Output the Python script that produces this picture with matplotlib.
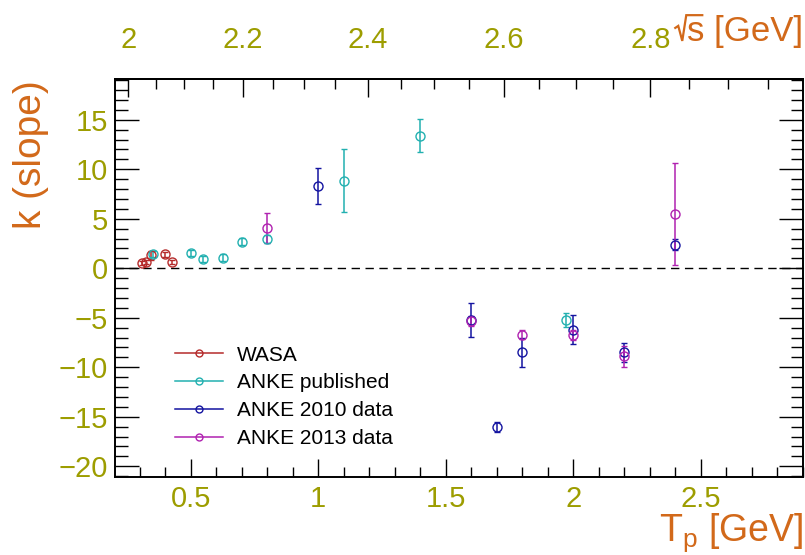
import numpy as np
import matplotlib
matplotlib.use('Agg')
import matplotlib.pyplot as plt
from matplotlib.lines import Line2D
from matplotlib.ticker import MultipleLocator, FuncFormatter

plt.rcParams['font.family'] = ['Liberation Sans', 'DejaVu Sans']
plt.rcParams['mathtext.fontset'] = 'custom'
plt.rcParams['mathtext.rm'] = 'Liberation Sans'
plt.rcParams['mathtext.it'] = 'Liberation Sans:italic'

OLIVE = '#9d9d00'
ORANGE = '#d2691a'
M_P = 0.938  # proton mass [GeV]

# slope k vs beam kinetic energy Tp [GeV]
wasa_tp = [0.31, 0.325, 0.345, 0.40, 0.425]
wasa_k = [0.5, 0.6, 1.3, 1.4, 0.6]
wasa_err = [0.2, 0.2, 0.47, 0.25, 0.2]

pub_tp = [0.353, 0.50, 0.55, 0.625, 0.70, 0.80, 1.10, 1.40, 1.97]
pub_k = [1.4, 1.5, 0.9, 1.07, 2.7, 3.0, 8.85, 13.4, -5.2]
pub_err = [0.3, 0.3, 0.3, 0.35, 0.35, 0.4, 3.2, 1.7, 0.7]

a10_tp = [1.0, 1.6, 1.7, 1.8, 2.0, 2.2, 2.4]
a10_k = [8.3, -5.2, -16.0, -8.5, -6.2, -8.5, 2.4]
a10_err = [1.83, 1.7, 0.5, 1.5, 1.48, 1.0, 0.6]

a13_tp = [0.8, 1.6, 1.8, 2.0, 2.2, 2.4]
a13_k = [4.1, -5.3, -6.7, -6.7, -8.9, 5.45]
a13_err = [1.5, 0.5, 0.45, 0.5, 1.05, 5.15]

series = [
    ('WASA', wasa_tp, wasa_k, wasa_err, '#b52b2b'),
    ('ANKE published', pub_tp, pub_k, pub_err, '#22b0b0'),
    ('ANKE 2010 data', a10_tp, a10_k, a10_err, '#1414a0'),
    ('ANKE 2013 data', a13_tp, a13_k, a13_err, '#b022b0'),
]

sqrts_major = [2.0, 2.2, 2.4, 2.6, 2.8]


def tp_to_sqrts(tp):
    tp = np.asarray(tp, dtype=float)
    return np.sqrt(np.maximum(4 * M_P**2 + 2 * M_P * tp, 0))


def sqrts_to_tp(rs):
    rs = np.asarray(rs, dtype=float)
    return (rs**2 - 4 * M_P**2) / (2 * M_P)


short_fmt = FuncFormatter(lambda v, pos: f'{v:g}')

fig = plt.figure(figsize=(8.05, 5.55), dpi=100)
ax = fig.add_axes([0.1429, 0.1411, 0.8542, 0.7157])

ax.axhline(0, color='black', lw=1.0, ls=(0, (6, 4)), zorder=1)

handles = []
for name, tp, k, err, col in series:
    ax.errorbar(tp, k, yerr=err, fmt='o', ms=6.5, mfc='none', mec=col,
                mew=1.0, color=col, ecolor=col, elinewidth=1.1,
                capsize=2, capthick=1.0, zorder=3)
    handles.append(Line2D([0], [0], color=col, lw=1.1, marker='o', ms=5,
                          mfc='none', mec=col, mew=1.0, label=name))

ax.set_xlim(0.2035, 2.9)
ax.set_ylim(-21.05, 19.07)

ax.xaxis.set_major_locator(MultipleLocator(0.5))
ax.xaxis.set_minor_locator(MultipleLocator(0.1))
ax.xaxis.set_major_formatter(short_fmt)
ax.yaxis.set_major_locator(MultipleLocator(5))
ax.yaxis.set_minor_locator(MultipleLocator(1))

ax.tick_params(axis='both', which='both', direction='in', colors='black',
               labelcolor=OLIVE, labelsize=21, width=1.0)
ax.tick_params(axis='y', which='major', length=17, pad=5, right=True)
ax.tick_params(axis='y', which='minor', length=9, right=True)
ax.tick_params(axis='x', which='major', length=13, pad=6, top=False)
ax.tick_params(axis='x', which='minor', length=7, top=False)
for sp in ax.spines.values():
    sp.set_linewidth(1.4)

# sqrt(s) scale along the top edge
top = ax.secondary_xaxis('top', functions=(tp_to_sqrts, sqrts_to_tp))
top.set_xticks(sqrts_major)
top.xaxis.set_major_formatter(short_fmt)
top.xaxis.set_minor_locator(MultipleLocator(0.05))
top.tick_params(axis='x', which='both', direction='in', labelcolor=OLIVE,
                labelsize=21, width=1.0)
top.tick_params(axis='x', which='major', length=13, pad=18)
top.tick_params(axis='x', which='minor', length=7)
top.spines['top'].set_linewidth(1.4)

# axis titles
W, H = fig.bbox.width, fig.bbox.height
sq = fig.text(0.998, 1 - 31 / 555, 's [GeV]', color=ORANGE, fontsize=25,
              ha='right', va='center')
fig.text(0.998, 1 - 533 / 555, r'T$_\mathrm{p}$ [GeV]', color=ORANGE,
         fontsize=27, ha='right', va='center')
fig.text(31 / 805, 1 - 80 / 555, 'k (slope)', color=ORANGE, fontsize=28,
         rotation=90, ha='center', va='top')

# radical sign in front of the "s"
fig.canvas.draw()
bb = sq.get_window_extent(fig.canvas.get_renderer())
x0 = bb.x0
y_base = bb.y0 + 0.2 * bb.height
y_top = bb.y1 - 0.02 * bb.height
rx = np.array([x0 - 12, x0 - 9, x0 - 5, x0 - 1, x0 + 15])
ry = np.array([y_base + 13, y_base + 15, y_base, y_top, y_top])
fig.add_artist(Line2D(rx / W, ry / H, color=ORANGE, lw=1.6,
                      solid_joinstyle='miter', transform=fig.transFigure))

ax.legend(handles=handles, loc='upper left', bbox_to_anchor=(0.087, 0.33),
          frameon=False, fontsize=15, handlelength=2.3, handletextpad=0.67,
          labelspacing=0.42, borderpad=0, borderaxespad=0)

fig.savefig('out.png', dpi=100)
